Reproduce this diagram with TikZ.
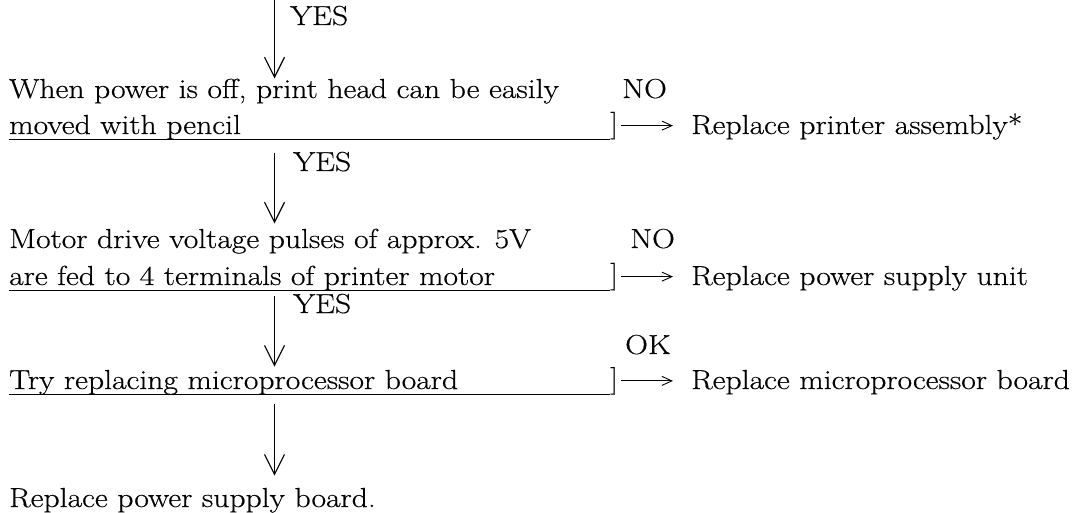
\documentclass[tikz,border=0pt]{standalone}
\usepackage{fontspec}
\setmainfont{Latin Modern Roman}[FakeStretch=1.15,FakeBold=0.4]
\usetikzlibrary{arrows.meta}

\begin{document}
\begin{tikzpicture}[x=1pt,y=-1pt,
  txt/.style={anchor=base west,inner sep=0pt,font=\fontsize{27.5}{32}\selectfont},
  brk/.style={anchor=south west,inner sep=0pt,font=\fontsize{27.5}{32}\selectfont},
  down/.style={line width=1.2pt,-{Straight Barb[length=20pt,width=20pt,line width=1.2pt]}},
  res/.style={line width=0.9pt,-{Straight Barb[length=10pt,width=9pt]},shorten <=3pt,shorten >=18pt},
  uline/.style={line width=1.1pt}]
\useasboundingbox (0,0) rectangle (1078,513);

\coordinate (spine) at (274.5,0);
\coordinate (rim) at (610,0);

% questions
\node[txt] (q1a) at (9,98) {When power is off, print head can be easily};
\node[txt] (q1b) at (9,134) {moved with pencil};
\node[txt] (q2a) at (9,248) {Motor drive voltage pulses of approx. 5V};
\node[txt] (q2b) at (9,285) {are fed to 4 terminals of printer motor};
\node[txt] (q3) at (9,389) {Try replacing microprocessor board};
\node[txt] (fin) at (9,507) {Replace power supply board.};

% answers
\node[txt] (yes1) at (290,25) {YES};
\node[txt] (yes2) at (293,171) {YES};
\node[txt] (yes3) at (293,313) {YES};
\node[txt] (no1) at (622,98) {NO};
\node[txt] (no2) at (630,248) {NO};
\node[txt] (ok) at (625,354) {OK};

% remedies
\node[txt] (r1) at (691,134) {Replace printer assembly*};
\node[txt] (r2) at (691,285) {Replace power supply unit};
\node[txt] (r3) at (691,389) {Replace microprocessor board};

% underlines, brackets and side arrows
\foreach \q/\b/\r in {q1b/b1/r1,q2b/b2/r2,q3/b3/r3}{
  \draw[uline] (\q.south west) -- (\q.south west -| rim);
  \node[brk] (\b) at (\q.south west -| rim) {]};
  \draw[res] (\b.east) -- (\b.east -| \r.west);
}

% main line
\draw[down] (spine) -- (spine |- q1a.north);
\draw[down] ([yshift=-13pt]spine |- q1b.south) -- ([yshift=5pt]spine |- q2a.north);
\draw[down] ([yshift=-5pt]spine |- q2b.south) -- ([yshift=3pt]spine |- q3.north);
\draw[down] ([yshift=-9pt]spine |- q3.south) -- ([yshift=12pt]spine |- fin.north);
\end{tikzpicture}
\end{document}
